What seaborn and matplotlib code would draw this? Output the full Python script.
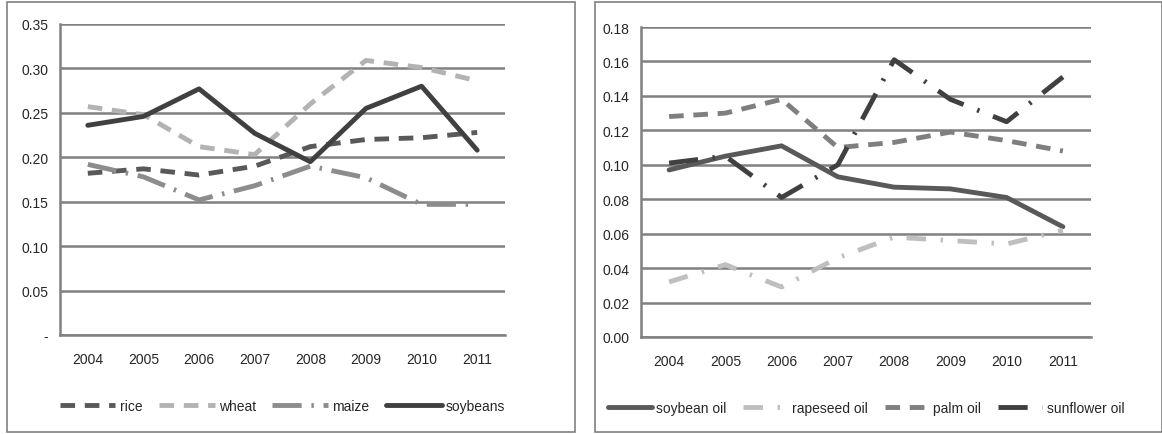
import numpy as np
import pandas as pd
import seaborn as sns
import matplotlib.pyplot as plt
from matplotlib.patches import Rectangle

years = ['2004', '2005', '2006', '2007', '2008', '2009', '2010', '2011']

rice = [0.182, 0.187, 0.180, 0.190, 0.212, 0.220, 0.222, 0.228]
wheat = [0.257, 0.248, 0.212, 0.203, 0.260, 0.309, 0.301, 0.286]
maize = [0.192, 0.178, 0.152, 0.168, 0.190, 0.177, 0.147, 0.147]
soybeans = [0.236, 0.246, 0.277, 0.227, 0.195, 0.255, 0.280, 0.208]

soybean_oil = [0.097, 0.105, 0.111, 0.093, 0.087, 0.086, 0.081, 0.064]
rapeseed_oil = [0.032, 0.042, 0.029, 0.046, 0.058, 0.056, 0.054, 0.062]
palm_oil = [0.128, 0.130, 0.138, 0.110, 0.113, 0.119, 0.114, 0.108]
sunflower_oil = [0.101, 0.105, 0.081, 0.100, 0.161, 0.138, 0.125, 0.151]

sns.set_theme(style='white')
plt.rcParams['font.family'] = ['Liberation Sans Narrow', 'Liberation Sans', 'DejaVu Sans']

fig = plt.figure(figsize=(11.62, 4.35), dpi=100)
W, H = 1162, 435
# panel borders
for x0, x1 in [(7, 575), (595, 1162)]:
    fig.patches.append(Rectangle((x0 / W, 2 / H), (x1 - x0) / W, 430 / H,
                                 transform=fig.transFigure, fill=False,
                                 edgecolor='#808080', lw=1.2))

ax1 = fig.add_axes([60 / W, 1 - 336 / H, 445 / W, 311 / H])
ax2 = fig.add_axes([641 / W, 1 - 338 / H, 450 / W, 310 / H])

x = np.arange(len(years))

def draw(ax, series, ymax, step, fmt, hl):
    for name, vals, color, ls, lw in series:
        df = pd.DataFrame({'x': x, 'y': vals})
        sns.lineplot(data=df, x='x', y='y', ax=ax, color=color, lw=lw,
                     label=name, linestyle=ls)
    ax.set_xlim(-0.5, len(years) - 0.5)
    ax.set_ylim(0, ymax)
    yt = np.arange(0, ymax + step / 2, step)
    ax.set_yticks(yt)
    ax.set_yticklabels([fmt(v) for v in yt], fontsize=10)
    ax.set_xticks(x)
    ax.set_xticklabels(years, fontsize=10)
    ax.set_xticks(np.arange(-0.5, len(years)), minor=True)
    ax.tick_params(axis='x', which='major', length=0, pad=12)
    ax.tick_params(axis='x', which='minor', length=5, color='#808080', width=1.5)
    ax.tick_params(axis='y', length=5, color='#808080', width=1.5)
    ax.grid(axis='y', color='#808080', lw=1.8)
    ax.set_axisbelow(True)
    for s in ['top', 'right']:
        ax.spines[s].set_visible(False)
    for s in ['left', 'bottom']:
        ax.spines[s].set_color('#808080')
        ax.spines[s].set_linewidth(1.8)
    ax.set_xlabel('')
    ax.set_ylabel('')
    ax.legend(loc='upper center', bbox_to_anchor=(0.5, -0.165), ncol=4,
              frameon=False, fontsize=10, handlelength=hl, columnspacing=1.2,
              handletextpad=0.3)

draw(ax1, [
    ('rice', rice, '#595959', (0, (3, 2)), 3.5),
    ('wheat', wheat, '#b3b3b3', (0, (3, 2)), 3.5),
    ('maize', maize, '#8c8c8c', (0, (6, 2, 0.5, 2)), 3.5),
    ('soybeans', soybeans, '#404040', '-', 3.5),
], 0.35, 0.05, lambda v: '-' if v == 0 else f'{v:.2f}', 4)

draw(ax2, [
    ('soybean oil', soybean_oil, '#595959', '-', 3.5),
    ('rapeseed oil', rapeseed_oil, '#bfbfbf', (0, (4, 3, 0.5, 3)), 3.5),
    ('palm oil', palm_oil, '#7f7f7f', (0, (3, 2)), 3.5),
    ('sunflower oil', sunflower_oil, '#404040', (0, (6, 3, 0.5, 3)), 3.5),
], 0.18, 0.02, lambda v: f'{v:.2f}', 3.2)

fig.savefig('out.png', dpi=100)
